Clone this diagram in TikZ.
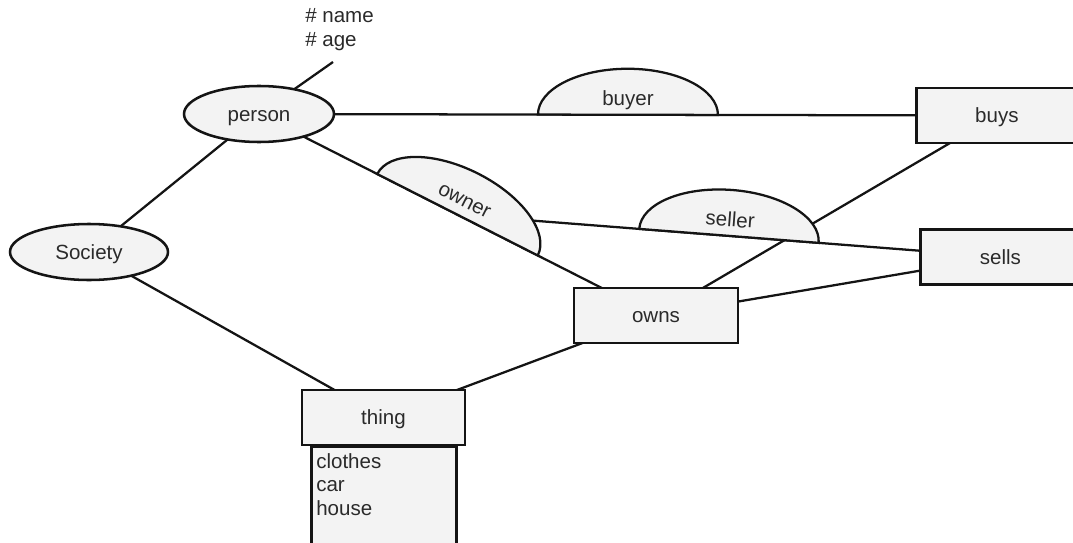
\documentclass[tikz,border=0pt]{standalone}
\usepackage{fontspec}
\setmainfont{Liberation Sans}
\usetikzlibrary{shapes.geometric, decorations.markings, backgrounds}
\definecolor{paper}{HTML}{F3F3F3}
\definecolor{ink}{HTML}{141414}
\definecolor{txt}{HTML}{2A2A2A}
\begin{document}
\begin{tikzpicture}[x=0.75pt, y=-0.75pt,
  labelfont/.style={font=\fontsize{15.4}{17.6}\selectfont, text=txt},
  centred/.style={labelfont, text height=11pt, text depth=0pt},
  entity/.style={centred, draw=ink, line width=1.9pt, fill=paper, ellipse,
    inner sep=0pt, minimum height=42pt},
  relation/.style={centred, draw=ink, line width=2.1pt, fill=paper, rectangle,
    inner sep=0pt, minimum height=41.25pt},
  link/.style={draw=ink, line width=1.7pt},
  role/.style={postaction={decorate, decoration={markings,
    mark=at position 0.5 with {
      \draw[draw=ink, line width=1.7pt, fill=paper]
        (-67.5pt,0pt) arc[start angle=180, end angle=0,
        x radius=67.5pt, y radius=34.5pt] -- cycle;
      \node[centred, transform shape, inner sep=0pt] at (0pt,12.5pt) {#1};
    }}}},
]
\useasboundingbox (0,0) rectangle (1073,542);
\clip (0,0) rectangle (1073,542);

% entities
\node[entity, minimum width=112.5pt] (person)  at (259,114) {person};
\node[entity, minimum width=118.5pt] (society) at (89,252)  {Society};

% relations and the thing box
\node[relation, minimum width=120.75pt, anchor=west] (buys)  at (915,115.5) {buys};
\node[relation, minimum width=120pt, anchor=west]    (sells) at (919,257)   {sells};
\node[relation, minimum width=123pt]   (owns)  at (656,315.5) {owns};
\node[relation, minimum width=122.25pt] (thing) at (383.5,417.5) {thing};
\node[relation, minimum width=108.75pt, minimum height=90pt, anchor=north west]
  (things) at (310,445) {};
\node[labelfont, anchor=north west, align=left, inner sep=0pt]
  (thingsText) at (316,453) {clothes\\car\\house};

% attributes of person
\node[font=\fontsize{15.4}{18}\selectfont, text=txt, anchor=north west,
  align=left, inner sep=0pt] (attrs) at (305,8.5) {\# name\\\# age};
\coordinate (attrEnd) at (333,62);

\begin{pgfonlayer}{background}
  \draw[link] (person.center) -- (attrEnd);
  \draw[link] (person.center) -- (society.center);
  \draw[link] (society.center) -- (thing.center);
  \draw[link] (thing.center) -- (owns.center);
  \draw[link] (owns.center) -- (buys.center);
  \draw[link] (owns.center) -- (sells.center);
  \path (person.center) -- (owns.center) coordinate[pos=0.5] (ownerMid);
  \draw[link, role=seller] (ownerMid) -- (sells.center);
  \draw[link, role=owner] (person.center) -- (owns.center);
  \draw[link, role=buyer] (person.center) -- (buys.center);
\end{pgfonlayer}
\end{tikzpicture}
\end{document}
